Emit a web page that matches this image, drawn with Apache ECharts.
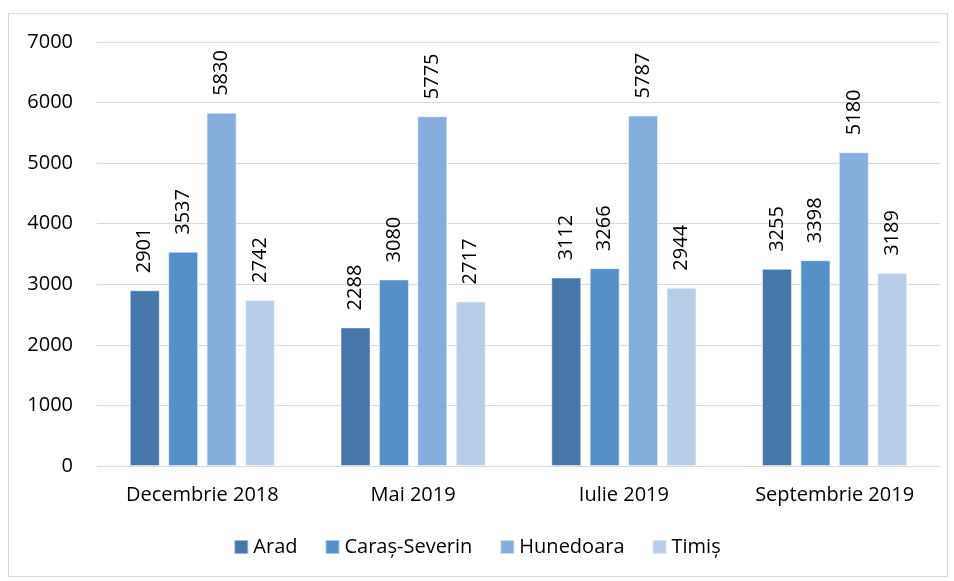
<!DOCTYPE html>
<html>
<head>
<meta charset="utf-8">
<script src="https://cdn.jsdelivr.net/npm/echarts@6/dist/echarts.min.js"></script>
<style>
  html, body { margin: 0; padding: 0; background: #fff; }
  #frame { position: absolute; left: 8px; top: 13px; width: 940px; height: 564px; border: 1px solid #d9d9d9; box-sizing: border-box; }
  #chart { width: 954px; height: 581px; }
</style>
</head>
<body>
<div id="frame"></div>
<div id="chart"></div>
<script>
// date
const categories = ['Decembrie 2018', 'Mai 2019', 'Iulie 2019', 'Septembrie 2019']
const arad = [2901, 2288, 3112, 3255]
const carasSeverin = [3537, 3080, 3266, 3398]
const hunedoara = [5830, 5775, 5787, 5180]
const timis = [2742, 2717, 2944, 3189]

const font = 'Open Sans'

const makeSeries = (name, data, color) => ({
  name,
  type: 'bar',
  data,
  barWidth: 30,
  barGap: '28%',
  itemStyle: { color, borderColor: 'rgba(255,255,255,0.5)', borderWidth: 1 },
  label: {
    show: true,
    position: 'top',
    rotate: 90,
    align: 'left',
    verticalAlign: 'middle',
    distance: 17,
    color: '#000',
    fontSize: 20,
    fontFamily: font
  }
})

const chart = echarts.init(document.getElementById('chart'))
chart.setOption({
  animation: false,
  grid: { left: 97, right: 14, top: 42, bottom: 115 },
  legend: {
    bottom: 19,
    left: 'center',
    itemWidth: 14,
    itemHeight: 14,
    itemGap: 27,
    icon: 'rect',
    textStyle: { fontFamily: font, fontSize: 20, color: '#000', padding: [0, 0, 0, 0] }
  },
  xAxis: {
    type: 'category',
    data: categories,
    axisTick: { show: false },
    axisLine: { lineStyle: { color: '#d9d9d9' } },
    axisLabel: { fontFamily: font, fontSize: 20, color: '#000', margin: 19 }
  },
  yAxis: {
    type: 'value',
    min: 0,
    max: 7000,
    interval: 1000,
    axisLine: { show: false },
    axisTick: { show: false },
    splitLine: { lineStyle: { color: '#d9d9d9' } },
    axisLabel: { fontFamily: font, fontSize: 20, color: '#000', margin: 24, formatter: v => String(v) }
  },
  series: [
    makeSeries('Arad', arad, '#4677a8'),
    makeSeries('Caraș-Severin', carasSeverin, '#5590c8'),
    makeSeries('Hunedoara', hunedoara, '#86aedd'),
    makeSeries('Timiș', timis, '#b8cde8')
  ]
})
</script>
</body>
</html>
